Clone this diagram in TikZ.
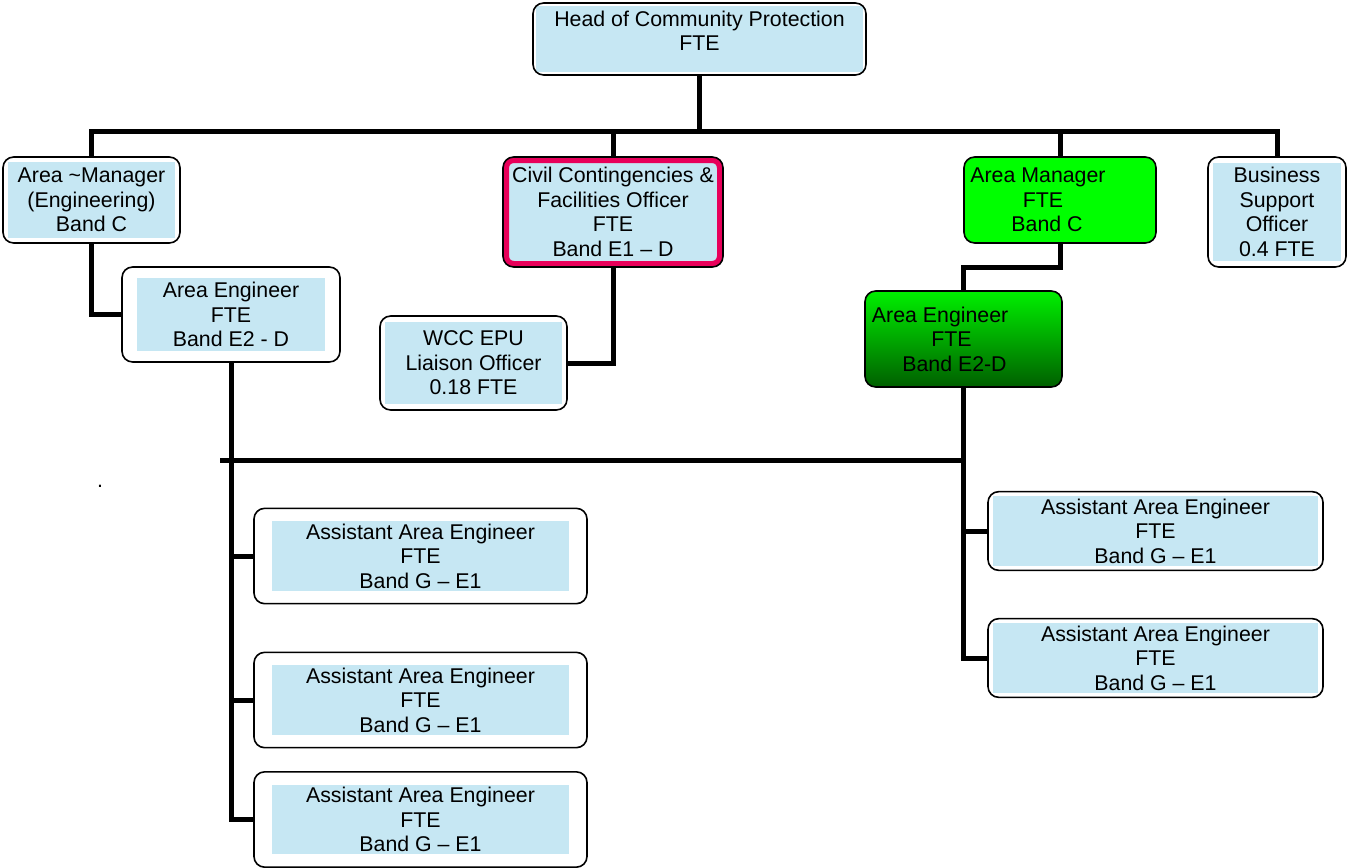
\documentclass[tikz,border=0pt]{standalone}
\usepackage{fontspec}
\setmainfont{Liberation Sans}
\usetikzlibrary{positioning}
\definecolor{boxblue}{HTML}{C6E7F3}
\definecolor{pinkred}{HTML}{E8005A}
\definecolor{brightgreen}{HTML}{00FF00}
\definecolor{greenhi}{HTML}{00F000}
\definecolor{greenlo}{HTML}{005F00}

\begin{document}
\begin{tikzpicture}[
  x=0.75pt, y=-0.75pt,
  obox/.style={rounded corners=8pt, draw=black, line width=1.2pt, fill=white,
               align=center, inner sep=0pt, font=\fontsize{16}{18.4}\selectfont},
  inset/.style 2 args={path picture={\fill[boxblue, sharp corners]
      ([shift={(#1,#2)}]path picture bounding box.south west) rectangle
      ([shift={(-#1,-#2)}]path picture bounding box.north east);}},
  civbox/.style={fill=boxblue, path picture={\draw[pinkred, line width=9pt, rounded corners=8pt]
      (path picture bounding box.south west) rectangle (path picture bounding box.north east);}},
  conn/.style={line width=3.75pt, line join=miter},
]
  \useasboundingbox (0,0) rectangle (1347,868);

  % Head
  \node[obox, inset={2.25pt}{2.25pt}, minimum width=249.75pt, minimum height=54pt,
        text depth=12pt] (head) at (699.5,39) {Head of Community Protection\\FTE};

  % Second tier
  \node[obox, inset={3.75pt}{3.75pt}, minimum width=132.75pt, minimum height=64.5pt]
        (mgr) at (91.5,200) {Area \textasciitilde Manager\\(Engineering)\\Band C};
  \node[obox, civbox, minimum width=165pt, minimum height=82.5pt]
        (civ) at (613,212) {Civil Contingencies \&\\Facilities Officer\\FTE\\Band E1 – D};
  \node[obox, fill=brightgreen, minimum width=144pt, minimum height=64.5pt]
        (amg) at (1060,200) {Area Manager\hspace*{33pt}\null\\FTE\hspace*{25.5pt}\null\\Band C\hspace*{19.5pt}\null};
  \node[obox, inset={4pt}{4.5pt}, minimum width=103.5pt, minimum height=82.5pt]
        (bso) at (1277,212) {Business\\Support\\Officer\\0.4 FTE};

  % Third tier
  \node[obox, inset={11.25pt}{8.6pt}, minimum width=163.5pt, minimum height=71.25pt]
        (ae1) at (231,314.5) {Area Engineer\\FTE\\Band E2 - D};
  \node[obox, inset={4.1pt}{4.5pt}, minimum width=140.25pt, minimum height=70.5pt]
        (wcc) at (473.5,363) {WCC EPU\\Liaison Officer\\0.18 FTE};
  \node[obox, top color=greenhi, bottom color=greenlo, minimum width=147.75pt, minimum height=72pt]
        (ae2) at (963.5,339) {Area Engineer\hspace*{35pt}\null\\FTE\hspace*{18pt}\null\\Band E2-D\hspace*{13.5pt}\null};

  % Assistants
  \foreach \y [count=\i] in {556,700,819.5}
    \node[obox, inset={13.5pt}{9.75pt}, minimum width=249.75pt, minimum height=71.5pt]
          (al\i) at (420.5,\y) {Assistant Area Engineer\\FTE\\Band G – E1};
  \foreach \y [count=\i] in {531,658}
    \node[obox, inset={3.75pt}{3.4pt}, minimum width=251.25pt, minimum height=59pt]
          (ar\i) at (1155.5,\y) {Assistant Area Engineer\\FTE\\Band G – E1};

  \node[font=\fontsize{16}{18.4}\selectfont, anchor=base] (dot) at (100,487) {.};

  % Connectors
  \coordinate (busy) at (0,131);
  \coordinate (lbus) at (220,460);
  \draw[conn] (head.south) -- (head.south |- busy);
  \draw[conn] (mgr.north) -- (mgr.north |- busy) -- (bso.north |- busy) -- (bso.north);
  \foreach \n in {civ,amg} \draw[conn] (\n.north) -- (\n.north |- busy);
  \draw[conn] (mgr.south) |- (ae1.west);
  \draw[conn] (civ.south) |- (wcc.east);
  \draw[conn] (amg.south) -- ++(0,24) -| (ae2.north);
  \draw[conn] (ae1.south) |- (al3.west);
  \foreach \n in {al1,al2} \draw[conn] (ae1.south |- \n.west) -- (\n.west);
  \draw[conn] (lbus) -- (ae2.south |- lbus);
  \draw[conn] (ae2.south) |- (ar2.west);
  \draw[conn] (ae2.south |- ar1.west) -- (ar1.west);

\end{tikzpicture}
\end{document}
